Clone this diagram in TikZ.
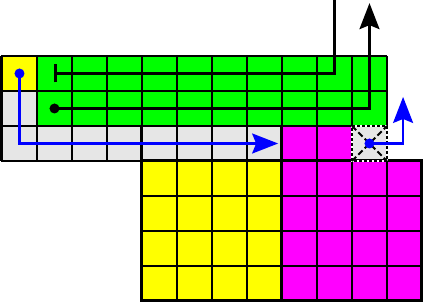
\documentclass[tikz,border=0pt]{standalone}
\usepackage{tikz}
\usetikzlibrary{arrows.meta}
\definecolor{cellyellow}{HTML}{FFFF00}
\definecolor{cellgreen}{HTML}{00FF00}
\definecolor{cellmagenta}{HTML}{FF00FF}
\definecolor{cellgray}{HTML}{E6E6E6}
\definecolor{pathblue}{HTML}{0000FF}
\begin{document}
\begin{tikzpicture}[x=35bp, y=35bp,
    gridline/.style={black, line width=1.3bp},
    midline/.style={black, line width=2bp},
    blockline/.style={black, line width=3bp},
    walk/.style={line width=2.2bp, line join=miter},
    dot/.style={circle, fill, inner sep=0pt, minimum size=10bp},
    bighead/.style={-{Stealth[length=26bp, width=20bp, inset=4bp]}}]
  \useasboundingbox (-0.057,-0.086) rectangle (12.029,8.6);
  % cells
  \fill[cellyellow] (0,6) rectangle (1,7);
  \fill[cellgray] (0,5) rectangle (1,6);
  \fill[cellgreen] (1,5) rectangle (11,7);
  \fill[cellgray] (0,4) rectangle (8,5);
  \fill[cellmagenta] (8,4) rectangle (10,5);
  \fill[cellgray] (10,4) rectangle (11,5);
  \fill[cellyellow] (4,0) rectangle (8,4);
  \fill[cellmagenta] (8,0) rectangle (12,4);
  \draw[gridline, step=1] (0,4) grid (10,7);
  \draw[gridline, step=1] (10,5) grid (11,7);
  \draw[gridline, step=1] (4,0) grid (12,4);
  % block borders
  \draw[midline] (0,4) rectangle (8,7);
  \draw[midline] (4,5) -- (4,7);
  \draw[midline] (8,5) -- (8,7);
  \draw[blockline] (0,4) -- (0,7);
  \draw[blockline] (4,0) rectangle (12,4);
  \draw[blockline] (4,0) -- (4,5);
  \draw[blockline] (8,0) -- (8,5);
  % the crossed cell
  \draw[white, line width=1.3bp] (10,4) rectangle (11,5);
  \draw[black, line width=1.3bp, dash pattern=on 3bp off 2bp] (10,4) rectangle (11,5);
  \draw[black, line width=2bp, dash pattern=on 6bp off 3bp] (10,4) -- (11,5);
  \draw[black, line width=2bp, dash pattern=on 6bp off 3bp] (10,5) -- (11,4);
  % black paths
  \coordinate (barstart) at (1.5,6.5);
  \coordinate (barturn) at (9.5,6.5);
  \coordinate (barexit) at (9.5,8.7);
  \draw[walk, {Bar[width=18bp]}-] (barstart) -- (barturn) -- (barexit);
  \node[dot] (blackstart) at (1.5,5.5) {};
  \coordinate (blackturn) at (10.5,5.5);
  \coordinate (blacktip) at (10.5,8.51);
  \draw[walk, bighead] (blackstart.center) -- (blackturn) -- (blacktip);
  % blue paths
  \node[dot, pathblue] (bluestart) at (0.5,6.5) {};
  \coordinate (blueturn) at (0.5,4.5);
  \coordinate (bluetip) at (7.89,4.5);
  \draw[walk, pathblue, bighead] (bluestart.center) -- (blueturn) -- (bluetip);
  \node[dot, pathblue] (crossdot) at (10.5,4.5) {};
  \coordinate (crossturn) at (11.46,4.5);
  \coordinate (crosstip) at (11.46,5.83);
  \draw[walk, pathblue, bighead] (crossdot.center) -- (crossturn) -- (crosstip);
\end{tikzpicture}
\end{document}
